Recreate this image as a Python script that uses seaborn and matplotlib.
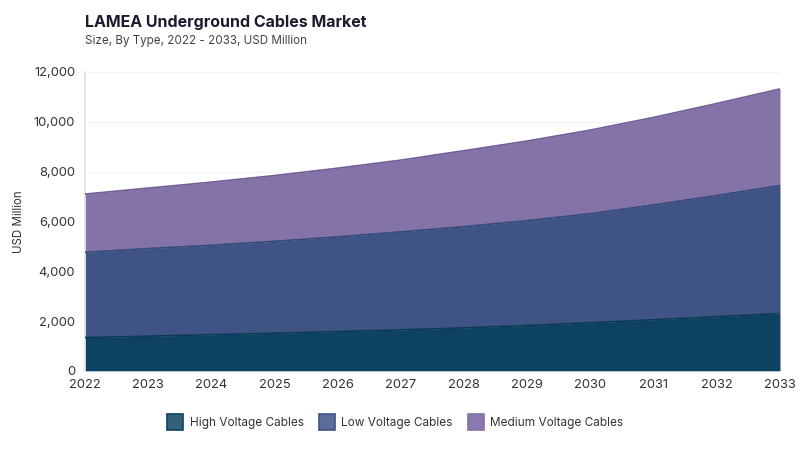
import pandas as pd
import numpy as np
import matplotlib.pyplot as plt
import seaborn as sns
from matplotlib.lines import Line2D

years = list(range(2022, 2034))
high_voltage = [1336, 1390, 1450, 1510, 1576, 1645, 1725, 1820, 1930, 2050, 2175, 2296]
low_voltage = [3424, 3518, 3590, 3690, 3800, 3935, 4065, 4210, 4380, 4610, 4865, 5144]
medium_voltage = [2336, 2428, 2536, 2640, 2760, 2880, 3050, 3198, 3358, 3516, 3696, 3880]

series = ["High Voltage Cables", "Low Voltage Cables", "Medium Voltage Cables"]
fills = ["#0e4263", "#405385", "#8473a6"]
edges = ["#0b3a58", "#34497c", "#6f5c98"]
legend_fill = ["#356079", "#5a6c99", "#8a78b0"]

sns.set_theme(style="white")
plt.rcParams['font.family'] = ['Inter', 'DejaVu Sans']

df = pd.DataFrame({"year": years, series[0]: high_voltage,
                   series[1]: low_voltage, series[2]: medium_voltage})
long = df.melt(id_vars="year", var_name="type", value_name="value")
long["top"] = long.groupby("year")["value"].cumsum()

fig, ax = plt.subplots(figsize=(8, 4.5), dpi=100)
fig.subplots_adjust(left=0.106, right=0.975, top=0.84, bottom=0.176)

# stacked areas
base = np.zeros(len(years))
for s, c in zip(series, fills):
    top = long[long["type"] == s]["top"].values
    ax.fill_between(years, base, top, color=c, linewidth=0, zorder=2)
    base = top

sns.lineplot(data=long, x="year", y="top", hue="type", palette=edges,
             legend=False, linewidth=1.2, ax=ax, zorder=3)

ax.set_xlim(2022, 2033)
ax.set_ylim(0, 12000)
ax.set_xticks(years)
ax.set_yticks(range(0, 12001, 2000))
ax.set_yticklabels([f"{v:,}" for v in range(0, 12001, 2000)])
ax.grid(axis="y", color="#f2f2f2", linewidth=0.8, zorder=0)
ax.set_axisbelow(True)
for sp in ["top", "right", "bottom"]:
    ax.spines[sp].set_visible(False)
ax.spines["left"].set_color("#e3e3e3")
ax.tick_params(axis="y", length=4, color="#e3e3e3", labelsize=9.3, labelcolor="#333333", pad=3)
ax.tick_params(axis="x", length=0, labelsize=9.3, labelcolor="#333333", pad=6)
ax.set_xlabel("")
ax.set_ylabel("USD Million", fontsize=8.3, color="#333333", labelpad=6)

fig.text(0.106, 0.95, "LAMEA Underground Cables Market", fontsize=11.5,
         fontweight="bold", color="#1c1c2e", ha="left", va="center")
fig.text(0.106, 0.909, "Size, By Type, 2022 - 2033, USD Million", fontsize=8.4,
         color="#444444", ha="left", va="center")

handles = [Line2D([0], [0], marker="s", linestyle="", markersize=11,
                  markerfacecolor=f, markeredgecolor=e, markeredgewidth=1.2)
           for f, e in zip(legend_fill, fills)]
fig.legend(handles, series, loc="center", bbox_to_anchor=(0.492, 0.06), ncol=3,
           frameon=False, fontsize=8.5, handletextpad=0.2, columnspacing=1.0,
           labelcolor="#333333")

plt.savefig("out.png", dpi=100)
